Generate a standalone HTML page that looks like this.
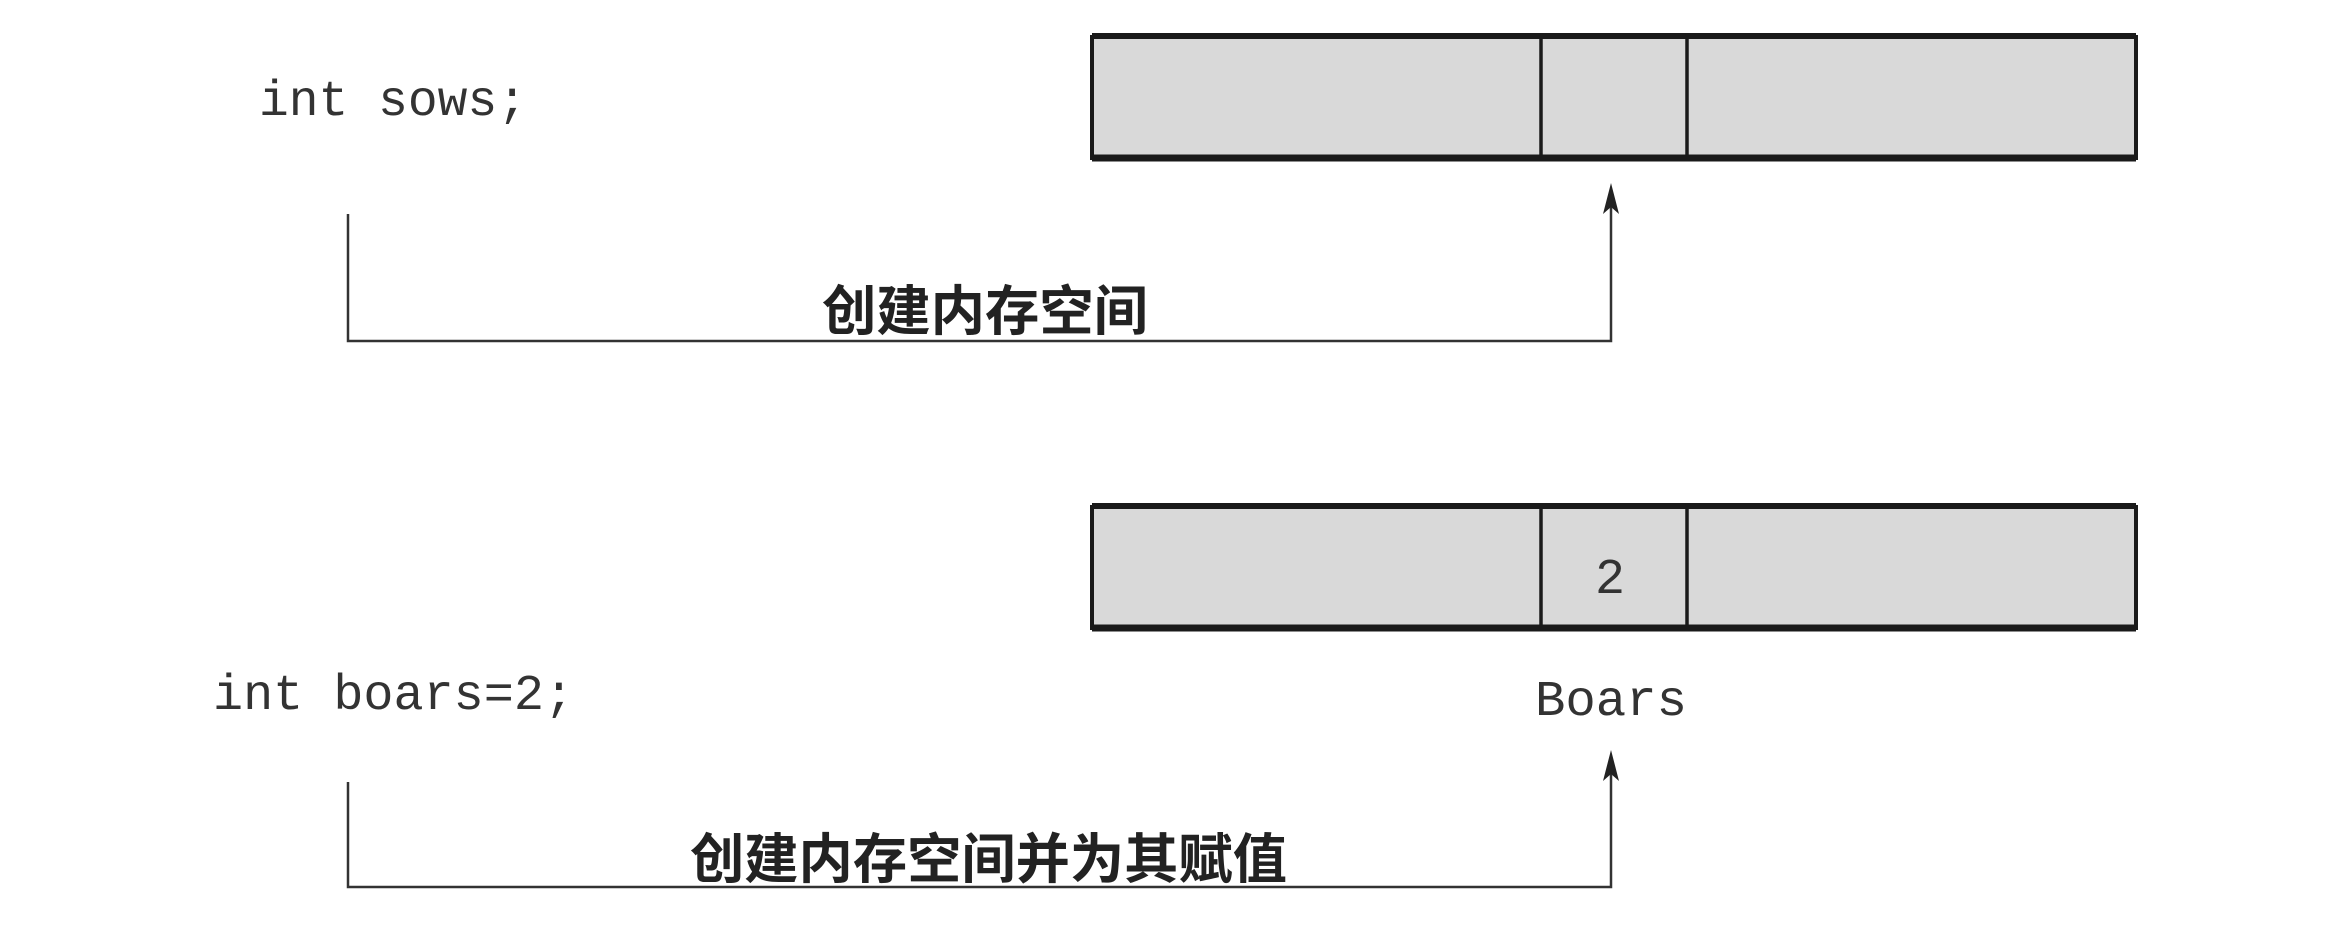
<!DOCTYPE html>
<html><head><meta charset="utf-8"><style>
html,body{margin:0;padding:0;background:#fff;}
</style></head><body>
<svg width="2350" height="930" xmlns="http://www.w3.org/2000/svg">
<rect width="2350" height="930" fill="#fff"/>
<g stroke="#1a1a1a" fill="#d9d9d9">
<rect x="1092" y="37" width="1044" height="121" stroke-width="4"/>
<line x1="1092" y1="36" x2="2136" y2="36" stroke-width="6"/>
<line x1="1092" y1="158" x2="2136" y2="158" stroke-width="7"/>
<line x1="1541" y1="36" x2="1541" y2="158" stroke-width="3.5"/>
<line x1="1687" y1="36" x2="1687" y2="158" stroke-width="3.5"/>
<rect x="1092" y="507" width="1044" height="121" stroke-width="4"/>
<line x1="1092" y1="506" x2="2136" y2="506" stroke-width="6"/>
<line x1="1092" y1="628" x2="2136" y2="628" stroke-width="7"/>
<line x1="1541" y1="506" x2="1541" y2="628" stroke-width="3.5"/>
<line x1="1687" y1="506" x2="1687" y2="628" stroke-width="3.5"/>
</g>
<g stroke="#333" stroke-width="2.5" fill="none">
<polyline points="348,214 348,341 1611,341 1611,200"/>
<polyline points="348,782 348,887 1611,887 1611,768"/>
</g>
<g fill="#222">
<polygon points="1611,183 1603,214 1611,207 1619,214"/>
<polygon points="1611,750 1603,781 1611,774 1619,781"/>
</g>
<g font-family="'Liberation Mono', monospace" font-size="50" fill="#333">
<text x="259" y="115" textLength="268" lengthAdjust="spacingAndGlyphs">int sows;</text>
<text x="213" y="709" textLength="361" lengthAdjust="spacingAndGlyphs">int boars=2;</text>
<text x="1535" y="715" textLength="152" lengthAdjust="spacingAndGlyphs">Boars</text>
<text x="1610" y="593" text-anchor="middle">2</text>
</g>
<g font-family="'Liberation Sans','Noto Sans CJK SC',sans-serif" font-size="54" font-weight="bold" fill="#222">
<text x="822" y="330" textLength="326" lengthAdjust="spacingAndGlyphs">创建内存空间</text>
<text x="690" y="878" textLength="597" lengthAdjust="spacingAndGlyphs">创建内存空间并为其赋值</text>
</g>
</svg>
</body></html>
